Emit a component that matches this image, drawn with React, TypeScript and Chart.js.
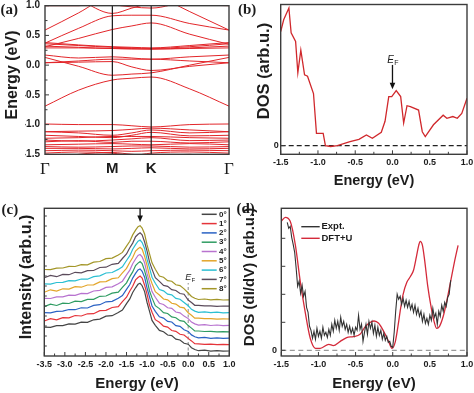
import React, { useEffect, useRef } from "react";
import { Chart, registerables } from "chart.js";

Chart.register(...registerables);

const W = 474;
const H = 393;
const SANS = "'Liberation Sans', Arial, Helvetica, sans-serif";
const SERIF = "'Liberation Serif', 'Times New Roman', Times, serif";
const INK = "#1c1c1c";
const FRAME = "#3c3c3c";
const BAND_RED = "#e2262a";

/* ---------------- (a) band structure ---------------- */
const kPath = [0, 0.5, 1, 1.29, 1.577, 2.15, 2.732];
const symPoints = [0, 1, 1.577, 2.732];
const symLabels = ["Γ", "M", "K", "Γ"];
const energyRangeA = [-1.5, 1.0];
const energyMajorA = [-1.5, -1.0, -0.5, 0, 0.5, 1.0];
const energyMinorA = [-1.25, -0.75, -0.25, 0.25, 0.75];
const bandsUpper = [
  [-0.69, -0.42, -0.25, -0.22, -0.2, -0.4, -0.69],
  [0.13, -0.02, -0.17, -0.15, -0.13, 0.0, 0.13],
  [0.17, 0.12, 0.14, 0.12, 0.1, 0.14, 0.17],
  [0.04, 0.07, 0.1, 0.1, 0.1, 0.07, 0.04],
  [0.04, 0.05, 0.06, -0.03, -0.09, -0.02, 0.04],
  [0.29, 0.29, 0.28, 0.27, 0.27, 0.28, 0.29],
  [0.32, 0.3, 0.28, 0.28, 0.27, 0.29, 0.32],
  [0.36, 0.33, 0.3, 0.29, 0.28, 0.31, 0.36],
  [0.38, 0.34, 0.31, 0.3, 0.29, 0.33, 0.38],
  [0.31, 0.45, 0.6, 0.66, 0.71, 0.52, 0.35],
  [0.37, 0.62, 0.83, 0.84, 0.84, 0.7, 0.59],
  [0.59, 0.88, 1.2, 1.25, 1.2, 0.9, 0.59],
  [1.3, 1.1, 0.87, 0.96, 1.05, 1.25, 1.3],
  [1.25, 1.15, 1.02, 0.98, 0.96, 1.1, 1.25],
  [1.0, 1.0, 1.1, 1.15, 1.1, 1.02, 1.0],
];
const bandsLower = [
  [-0.99, -1.0, -1.0, -1.02, -1.04, -1.0, -0.99],
  [-1.12, -1.11, -1.1, -1.08, -1.06, -1.09, -1.12],
  [-1.12, -1.14, -1.18, -1.14, -1.09, -1.14, -1.12],
  [-1.18, -1.2, -1.22, -1.18, -1.13, -1.19, -1.18],
  [-1.23, -1.22, -1.2, -1.2, -1.2, -1.22, -1.23],
  [-1.26, -1.28, -1.26, -1.24, -1.22, -1.27, -1.26],
  [-1.29, -1.27, -1.3, -1.28, -1.28, -1.31, -1.29],
  [-1.34, -1.33, -1.32, -1.33, -1.34, -1.32, -1.34],
  [-1.37, -1.38, -1.37, -1.36, -1.36, -1.38, -1.37],
  [-1.4, -1.4, -1.41, -1.4, -1.39, -1.41, -1.4],
  [-1.44, -1.43, -1.44, -1.45, -1.44, -1.43, -1.44],
  [-1.48, -1.46, -1.48, -1.52, -1.48, -1.46, -1.48],
  [-1.6, -1.5, -1.47, -1.5, -1.52, -1.5, -1.6],
];

/* ---------------- (b) DOS ---------------- */
const dosRangeB = [-1, 16.26];
const dosCurveB: [number, number][] = [
  [-1.5, 13.15], [-1.46, 14.5], [-1.39, 15.85], [-1.36, 13.0], [-1.3, 12.0], [-1.27, 8.4],
  [-1.23, 11.0], [-1.18, 8.15], [-1.14, 8.0], [-1.06, 6.0], [-1.02, 1.4], [-0.93, 1.4],
  [-0.9, 0], [-0.83, -0.1], [-0.74, 0], [-0.57, 0.46], [-0.45, 0.73], [-0.35, 1.23],
  [-0.27, 0.85], [-0.15, 1.54], [-0.1, 2.8], [-0.05, 5.65], [-0.01, 5.65], [0.05, 6.35],
  [0.11, 5.65], [0.15, 2.6], [0.195, 4.6], [0.24, 4.5], [0.35, 4.1], [0.4, 1.6],
  [0.44, 1.04], [0.55, 2.4], [0.68, 3.5], [0.73, 3.15], [0.81, 3.35], [0.87, 3.15],
  [0.93, 3.7], [1.0, 5.45],
];
const fermiArrowB = { x: 0, from: 9.3, to: 6.5 };
const zeroTick = [0];

/* shared energy ticks for (b) and (d) */
const energyMajorBD = [-1.5, -1.0, -0.5, 0, 0.5, 1.0];
const energyMinorBD = [-1.25, -0.75, -0.25, 0.25, 0.75];

/* ---------------- (c) ARPES EDCs ---------------- */
const energyC = [
  -3.5, -3.35, -3.2, -3.05, -2.9, -2.75, -2.6, -2.45, -2.3, -2.15,
  -2.0, -1.85, -1.7, -1.6, -1.5, -1.42, -1.35, -1.28, -1.22, -1.17,
  -1.12, -1.06, -1.0, -0.94, -0.88, -0.8, -0.7, -0.6, -0.5, -0.4,
  -0.3, -0.2, -0.1, 0.0, 0.08, 0.16, 0.25, 0.4, 0.55, 0.7, 0.85, 1.0,
];
const angle0 = [2.89, 2.87, 3.03, 3.04, 3.21, 3.19, 3.38, 3.36, 3.62, 3.69, 3.98, 4.03, 4.34, 4.6, 5.23, 5.71, 6.35, 6.82, 7.17, 7.27, 7.03, 6.44, 5.35, 4.46, 3.56, 3.07, 2.56, 2.43, 2.1, 2.04, 1.68, 1.6, 1.27, 1.18, 0.83, 0.65, 0.53, 0.58, 0.49, 0.54, 0.48, 0.5];
const angle1 = [3.5, 3.74, 3.61, 3.84, 3.81, 4.05, 4.0, 4.22, 4.23, 4.53, 4.56, 4.85, 4.94, 5.43, 5.88, 6.5, 6.97, 7.61, 7.85, 8.0, 7.8, 7.08, 6.17, 5.06, 4.37, 3.63, 3.38, 2.98, 2.89, 2.55, 2.47, 2.17, 2.1, 1.76, 1.51, 1.23, 1.22, 1.17, 1.18, 1.13, 1.16, 1.14];
const angle2 = [4.33, 4.31, 4.47, 4.48, 4.65, 4.63, 4.82, 4.8, 5.06, 5.13, 5.42, 5.47, 5.78, 6.04, 6.67, 7.15, 7.79, 8.26, 8.61, 8.71, 8.47, 7.88, 6.79, 5.9, 5.0, 4.47, 3.92, 3.79, 3.46, 3.4, 3.04, 2.96, 2.63, 2.46, 2.11, 1.93, 1.81, 1.86, 1.77, 1.82, 1.76, 1.78];
const angle3 = [4.94, 5.18, 5.05, 5.28, 5.25, 5.49, 5.44, 5.66, 5.67, 5.97, 6.0, 6.29, 6.38, 6.87, 7.32, 7.94, 8.41, 9.05, 9.29, 9.44, 9.24, 8.52, 7.61, 6.5, 5.81, 5.03, 4.74, 4.34, 4.25, 3.91, 3.83, 3.53, 3.46, 3.04, 2.79, 2.51, 2.5, 2.45, 2.46, 2.41, 2.44, 2.42];
const angle4 = [5.77, 5.75, 5.91, 5.92, 6.09, 6.07, 6.26, 6.24, 6.5, 6.57, 6.86, 6.91, 7.22, 7.48, 8.11, 8.59, 9.23, 9.7, 10.05, 10.15, 9.91, 9.32, 8.23, 7.34, 6.44, 5.87, 5.28, 5.15, 4.82, 4.76, 4.4, 4.32, 3.99, 3.74, 3.39, 3.21, 3.09, 3.14, 3.05, 3.1, 3.04, 3.06];
const angle5 = [6.38, 6.62, 6.49, 6.72, 6.69, 6.93, 6.88, 7.1, 7.11, 7.41, 7.44, 7.73, 7.82, 8.31, 8.76, 9.38, 9.85, 10.49, 10.73, 10.88, 10.68, 9.96, 9.05, 7.94, 7.25, 6.43, 6.1, 5.7, 5.61, 5.27, 5.19, 4.89, 4.82, 4.32, 4.07, 3.79, 3.78, 3.73, 3.74, 3.69, 3.72, 3.7];
const angle6 = [7.21, 7.19, 7.35, 7.36, 7.53, 7.51, 7.7, 7.68, 7.94, 8.01, 8.3, 8.35, 8.66, 8.92, 9.55, 10.03, 10.67, 11.14, 11.49, 11.59, 11.35, 10.76, 9.67, 8.78, 7.88, 7.27, 6.64, 6.51, 6.18, 6.12, 5.76, 5.68, 5.35, 5.02, 4.67, 4.49, 4.37, 4.42, 4.33, 4.38, 4.32, 4.34];
const angle7 = [7.82, 8.06, 7.93, 8.16, 8.13, 8.37, 8.32, 8.54, 8.55, 8.85, 8.88, 9.17, 9.26, 9.75, 10.2, 10.82, 11.29, 11.93, 12.17, 12.32, 12.12, 11.4, 10.49, 9.38, 8.69, 7.83, 7.46, 7.06, 6.97, 6.63, 6.55, 6.25, 6.18, 5.6, 5.35, 5.07, 5.06, 5.01, 5.02, 4.97, 5.0, 4.98];
const angle8 = [8.65, 8.63, 8.79, 8.8, 8.97, 8.95, 9.14, 9.12, 9.38, 9.45, 9.74, 9.79, 10.1, 10.36, 10.99, 11.47, 12.11, 12.58, 12.93, 13.03, 12.79, 12.2, 11.11, 10.22, 9.32, 8.67, 8.0, 7.87, 7.54, 7.48, 7.12, 7.04, 6.71, 6.3, 5.95, 5.77, 5.65, 5.7, 5.61, 5.66, 5.6, 5.62];
const angleCurves = [angle0, angle1, angle2, angle3, angle4, angle5, angle6, angle7, angle8];
const angleLabels = ["0°", "1°", "2°", "3°", "4°", "5°", "6°", "7°", "8°"];
const angleColors = ["#454545", "#e5343a", "#2a62c4", "#2f9c62", "#b873cf", "#e3a52a", "#2bbfd2", "#5b4b5b", "#a39628"];
const intensityRangeC = [0, 14.77];
const intensityMinorC = [1, 2, 3, 4, 5, 6, 7, 8, 9, 10, 11, 12, 13, 14];
const energyMajorC = [-3.5, -3.0, -2.5, -2.0, -1.5, -1.0, -0.5, 0, 0.5, 1.0];
const energyMinorC = [-3.25, -2.75, -2.25, -1.75, -1.25, -0.75, -0.25, 0.25, 0.75];
const peakArrowC = { x: -1.17, from: 14.8, to: 13.4 };
const fermiLineTopC = 7.3;

/* ---------------- (d) STS vs DFT+U ---------------- */
const dosRangeD = [-0.57, 14.2];
const dosMajorD = [0, 2.8, 5.6, 8.4, 11.2];
const dftCurve: [number, number][] = [
  [-1.5, 12.9], [-1.446, 13.3], [-1.38, 12.9], [-1.31, 10.5], [-1.245, 6.9], [-1.18, 3.9],
  [-1.11, 1.2], [-1.04, 0.2], [-0.975, 0.2], [-0.86, 0.6], [-0.8, 0.47], [-0.71, 0.87],
  [-0.62, 1.27], [-0.53, 1.37], [-0.44, 1.6], [-0.37, 2.37], [-0.3, 2.8], [-0.25, 2.93],
  [-0.19, 2.7], [-0.12, 1.87], [-0.055, 0.87], [-0.01, 0.2], [0.035, 0.87], [0.08, 2.87],
  [0.1, 3.9], [0.14, 5.6], [0.19, 6.8], [0.24, 7.4], [0.28, 8.0], [0.32, 9.4], [0.35, 10.5],
  [0.37, 10.9], [0.4, 10.5], [0.43, 9.0], [0.47, 6.5], [0.52, 4.2], [0.56, 2.8], [0.59, 2.2],
  [0.63, 2.4], [0.68, 3.4], [0.73, 5.0], [0.78, 6.9], [0.83, 8.8], [0.88, 10.5],
];
const exptCurve: [number, number][] = [
  [-1.42, 12.8], [-1.4, 12.2], [-1.38, 12.4], [-1.36, 11.3], [-1.34, 10.6], [-1.32, 9.8],
  [-1.3, 8.2], [-1.28, 6.4], [-1.26, 6.9], [-1.24, 5.7], [-1.22, 6.5], [-1.2, 5.4],
  [-1.18, 5.9], [-1.16, 4.3], [-1.14, 3.8], [-1.12, 2.4], [-1.1, 2.0], [-1.08, 1.2],
  [-1.06, 1.9], [-1.04, 1.1], [-1.02, 2.2], [-1.0, 1.4], [-0.98, 1.9], [-0.96, 1.2],
  [-0.94, 2.3], [-0.92, 1.5], [-0.9, 1.8], [-0.88, 1.3], [-0.86, 2.1], [-0.84, 1.5],
  [-0.82, 2.6], [-0.8, 1.9], [-0.78, 3.0], [-0.76, 2.2], [-0.74, 2.9], [-0.72, 2.0],
  [-0.7, 3.3], [-0.68, 2.4], [-0.66, 2.9], [-0.64, 2.1], [-0.62, 2.6], [-0.6, 1.8],
  [-0.58, 2.4], [-0.56, 1.7], [-0.54, 2.2], [-0.52, 1.5], [-0.5, 2.3], [-0.48, 2.0],
  [-0.46, 3.5], [-0.44, 2.1], [-0.42, 2.6], [-0.4, 0.9], [-0.38, 1.8], [-0.36, 2.6],
  [-0.34, 1.6], [-0.32, 2.9], [-0.3, 2.2], [-0.28, 2.8], [-0.26, 1.7], [-0.24, 2.5],
  [-0.22, 1.4], [-0.2, 2.3], [-0.18, 1.5], [-0.16, 2.0], [-0.14, 1.1], [-0.12, 1.7],
  [-0.1, 1.0], [-0.08, 1.4], [-0.06, 0.8], [-0.04, 0.9], [-0.02, 0.4], [0.0, 0.3],
  [0.02, 1.8], [0.04, 3.9], [0.06, 5.6], [0.08, 5.1], [0.1, 5.4], [0.12, 4.6],
  [0.14, 5.2], [0.16, 4.4], [0.18, 5.0], [0.2, 4.3], [0.22, 4.9], [0.24, 4.1],
  [0.26, 4.6], [0.28, 3.8], [0.3, 4.5], [0.32, 3.6], [0.34, 4.2], [0.36, 3.4],
  [0.38, 3.9], [0.4, 2.9], [0.42, 3.6], [0.44, 2.7], [0.46, 3.2], [0.48, 2.6],
  [0.5, 3.5], [0.52, 3.0], [0.54, 4.2], [0.56, 3.3], [0.58, 3.7], [0.6, 2.6],
  [0.62, 3.9], [0.64, 3.4], [0.66, 4.5], [0.68, 3.9], [0.7, 4.8], [0.72, 4.4],
  [0.74, 5.3], [0.76, 5.6], [0.78, 7.0],
];
const seriesD = ["Expt.", "DFT+U"];

/* ---------------- helpers ---------------- */
type Area = { l: number; t: number; r: number; b: number };
const AXIS_W = 20;
const AXIS_H = 20;
const NOGRID = { display: false, drawTicks: false };
const NOBORDER = { display: false };

function layoutFor(a: Area) {
  return { padding: { left: a.l - AXIS_W, top: a.t, right: W - a.r, bottom: H - a.b - AXIS_H } };
}
function pinAxis(size: number, vertical: boolean) {
  return (s: any) => {
    if (vertical) s.width = size;
    else s.height = size;
    s.paddingLeft = 0;
    s.paddingRight = 0;
    s.paddingTop = 0;
    s.paddingBottom = 0;
  };
}
function common(a: Area) {
  return {
    responsive: false,
    maintainAspectRatio: false,
    animation: false,
    devicePixelRatio: 1,
    events: [],
    layout: layoutFor(a),
    elements: { point: { radius: 0 }, line: { capBezierPoints: false } },
    plugins: { legend: { display: false }, tooltip: { enabled: false }, title: { display: false } },
  };
}
const pts = (xs: number[], ys: number[]) => xs.map((x, i) => ({ x, y: ys[i] }));
const pairPts = (p: [number, number][]) => p.map(([x, y]) => ({ x, y }));
const tickFont = (size: number) => ({ family: SANS, size, weight: "bold" as const });

function label(ctx: CanvasRenderingContext2D, s: string, x: number, y: number, font: string, align: CanvasTextAlign = "center", baseline: CanvasTextBaseline = "middle", rot = 0, color = INK) {
  ctx.save();
  ctx.translate(x, y);
  if (rot) ctx.rotate(rot);
  ctx.font = font;
  ctx.fillStyle = color;
  ctx.textAlign = align;
  ctx.textBaseline = baseline;
  ctx.fillText(s, 0, 0);
  ctx.restore();
}
function arrowDown(ctx: CanvasRenderingContext2D, x: number, yTop: number, yTip: number) {
  ctx.save();
  ctx.strokeStyle = "#111";
  ctx.fillStyle = "#111";
  ctx.lineWidth = 1.3;
  ctx.beginPath();
  ctx.moveTo(x, yTop);
  ctx.lineTo(x, yTip - 4);
  ctx.stroke();
  ctx.beginPath();
  ctx.moveTo(x - 2.8, yTip - 6.5);
  ctx.lineTo(x + 2.8, yTip - 6.5);
  ctx.lineTo(x, yTip);
  ctx.closePath();
  ctx.fill();
  ctx.restore();
}
function fermiLabel(ctx: CanvasRenderingContext2D, x: number, baseline: number, size: number) {
  ctx.save();
  ctx.fillStyle = INK;
  ctx.textBaseline = "alphabetic";
  ctx.font = `italic ${size}px ${SANS}`;
  ctx.textAlign = "right";
  ctx.fillText("E", x, baseline);
  ctx.font = `${Math.round(size * 0.72)}px ${SANS}`;
  ctx.textAlign = "left";
  ctx.fillText("F", x + 0.3, baseline + 2);
  ctx.restore();
}

type TickSpec = { xMajor?: number[]; xMinor?: number[]; yMajor?: number[]; yMinor?: number[] };
function decor(id: string, spec: TickSpec, extra: (chart: any, ctx: CanvasRenderingContext2D) => void) {
  return {
    id,
    afterDraw(chart: any) {
      const ctx: CanvasRenderingContext2D = chart.ctx;
      const a = chart.chartArea;
      const xs = chart.scales.x;
      const ys = chart.scales.y;
      ctx.save();
      ctx.strokeStyle = FRAME;
      ctx.lineWidth = 1;
      const xt = (vals: number[] = [], len: number) =>
        vals.forEach((v) => {
          const p = xs.getPixelForValue(v);
          ctx.beginPath();
          ctx.moveTo(p, a.bottom);
          ctx.lineTo(p, a.bottom - len);
          ctx.stroke();
        });
      const yt = (vals: number[] = [], len: number) =>
        vals.forEach((v) => {
          const p = ys.getPixelForValue(v);
          ctx.beginPath();
          ctx.moveTo(a.left, p);
          ctx.lineTo(a.left + len, p);
          ctx.stroke();
        });
      xt(spec.xMajor, 4);
      xt(spec.xMinor, 2.5);
      yt(spec.yMajor, 4);
      yt(spec.yMinor, 2.5);
      ctx.lineWidth = 1.4;
      ctx.strokeRect(a.left, a.top, a.right - a.left, a.bottom - a.top);
      ctx.restore();
      ctx.save();
      extra(chart, ctx);
      ctx.restore();
    },
  };
}

/* ---------------- panel configs ---------------- */
function configA() {
  const area = { l: 45, t: 5.7, r: 229, b: 154.3 };
  const datasets: any[] = [];
  symPoints.slice(1, 3).forEach((k) =>
    datasets.push({ data: [{ x: k, y: energyRangeA[0] }, { x: k, y: energyRangeA[1] }], borderColor: "#151515", borderWidth: 1.2 })
  );
  [...bandsUpper, ...bandsLower].forEach((vals) =>
    datasets.push({ data: pts(kPath, vals), borderColor: BAND_RED, borderWidth: 1, cubicInterpolationMode: "monotone" })
  );
  return {
    type: "line",
    data: { datasets },
    options: {
      ...common(area),
      scales: {
        x: {
          type: "linear", min: symPoints[0], max: symPoints[3], grid: NOGRID, border: NOBORDER,
          afterFit: pinAxis(AXIS_H, false),
          afterBuildTicks: (s: any) => { s.ticks = symPoints.map((v) => ({ value: v })); },
          ticks: {
            autoSkip: false, maxRotation: 0, minRotation: 0, padding: 5.5, color: INK,
            callback: (_v: any, i: number) => symLabels[i],
            font: (c: any) => (symLabels[c.index] === "Γ" ? { family: SERIF, size: 17 } : { family: SANS, size: 15, weight: "bold" }),
          },
        },
        y: {
          type: "linear", min: energyRangeA[0], max: energyRangeA[1], grid: NOGRID, border: NOBORDER,
          afterFit: pinAxis(AXIS_W, true),
          ticks: { stepSize: 0.5, autoSkip: false, padding: 5, color: INK, font: tickFont(10), callback: (v: any) => Number(v).toFixed(1) },
        },
      },
    },
    plugins: [
      decor("decA", { yMajor: energyMajorA, yMinor: energyMinorA }, (_c, ctx) => {
        label(ctx, "Energy (eV)", 12.5, 75, `bold 16px ${SANS}`, "center", "middle", -Math.PI / 2);
        label(ctx, "(a)", 0.5, 14, `bold 15px ${SERIF}`, "left", "alphabetic");
      }),
    ],
  };
}

function configB() {
  const area = { l: 280.7, t: 4.5, r: 467, b: 154.3 };
  return {
    type: "line",
    data: {
      datasets: [
        { data: pairPts(dosCurveB), borderColor: "#d0282c", borderWidth: 1.3 },
        { data: [{ x: energyMajorBD[0], y: 0 }, { x: energyMajorBD[5], y: 0 }], borderColor: "#222", borderWidth: 1.2, borderDash: [5, 3] },
      ],
    },
    options: {
      ...common(area),
      scales: {
        x: {
          type: "linear", min: -1.5, max: 1.0, grid: NOGRID, border: NOBORDER, afterFit: pinAxis(AXIS_H, false),
          ticks: { stepSize: 0.5, autoSkip: false, maxRotation: 0, padding: 3.3, color: INK, font: tickFont(9), callback: (v: any) => Number(v).toFixed(1) },
        },
        y: {
          type: "linear", min: dosRangeB[0], max: dosRangeB[1], grid: NOGRID, border: NOBORDER, afterFit: pinAxis(AXIS_W, true),
          afterBuildTicks: (s: any) => { s.ticks = zeroTick.map((v) => ({ value: v })); },
          ticks: { autoSkip: false, padding: 2, color: INK, font: tickFont(9) },
        },
      },
    },
    plugins: [
      decor("decB", { xMajor: energyMajorBD, xMinor: energyMinorBD, yMajor: zeroTick }, (c, ctx) => {
        const xs = c.scales.x, ys = c.scales.y;
        const px = xs.getPixelForValue(fermiArrowB.x);
        const yTop = ys.getPixelForValue(fermiArrowB.from);
        arrowDown(ctx, px, yTop, ys.getPixelForValue(fermiArrowB.to));
        fermiLabel(ctx, px + 1.5, yTop - 2, 10);
        label(ctx, "DOS (arb.u.)", 264.3, 71, `bold 16.5px ${SANS}`, "center", "middle", -Math.PI / 2);
        label(ctx, "Energy (eV)", 374, 180.5, `bold 14.5px ${SANS}`);
        label(ctx, "(b)", 238, 14, `bold 15px ${SERIF}`, "left", "alphabetic");
      }),
    ],
  };
}

function configC() {
  const area = { l: 44.3, t: 208.3, r: 229.3, b: 356 };
  const datasets: any[] = angleCurves.map((vals, i) => ({ data: pts(energyC, vals), borderColor: angleColors[i], borderWidth: 1.2 }));
  datasets.push({ data: [{ x: 0, y: intensityRangeC[0] }, { x: 0, y: fermiLineTopC }], borderColor: "#8a8a8a", borderWidth: 1, borderDash: [3, 2.5] });
  return {
    type: "line",
    data: { datasets },
    options: {
      ...common(area),
      scales: {
        x: {
          type: "linear", min: -3.5, max: 1.0, grid: NOGRID, border: NOBORDER, afterFit: pinAxis(AXIS_H, false),
          ticks: { stepSize: 0.5, autoSkip: false, maxRotation: 0, padding: 2.9, color: INK, font: tickFont(9), callback: (v: any) => Number(v).toFixed(1) },
        },
        y: {
          type: "linear", min: intensityRangeC[0], max: intensityRangeC[1], grid: NOGRID, border: NOBORDER, afterFit: pinAxis(AXIS_W, true),
          ticks: { display: false },
        },
      },
    },
    plugins: [
      decor("decC", { xMajor: energyMajorC, xMinor: energyMinorC, yMinor: intensityMinorC }, (c, ctx) => {
        const xs = c.scales.x, ys = c.scales.y;
        arrowDown(ctx, xs.getPixelForValue(peakArrowC.x), ys.getPixelForValue(peakArrowC.from), ys.getPixelForValue(peakArrowC.to));
        fermiLabel(ctx, xs.getPixelForValue(0) + 3, ys.getPixelForValue(fermiLineTopC) - 3, 9);
        angleLabels.forEach((t, i) => {
          const y = 214.3 + i * 9.3;
          ctx.strokeStyle = angleColors[i];
          ctx.lineWidth = 1.5;
          ctx.beginPath();
          ctx.moveTo(201.7, y);
          ctx.lineTo(216.7, y);
          ctx.stroke();
          label(ctx, t, 219, y, `bold 8px ${SANS}`, "left", "middle");
        });
        label(ctx, "Intensity (arb.u.)", 26.5, 277, `bold 16px ${SANS}`, "center", "middle", -Math.PI / 2);
        label(ctx, "Energy (eV)", 137, 384, `bold 15px ${SANS}`);
        label(ctx, "(c)", 1.5, 214, `bold 15px ${SERIF}`, "left", "alphabetic");
      }),
    ],
  };
}

function configD() {
  const area = { l: 281.3, t: 208.3, r: 467, b: 356 };
  return {
    type: "line",
    data: {
      datasets: [
        { label: seriesD[0], data: pairPts(exptCurve), borderColor: "#333333", borderWidth: 1.1 },
        { label: seriesD[1], data: pairPts(dftCurve), borderColor: "#d42a3a", borderWidth: 1.3, cubicInterpolationMode: "monotone" },
        { data: [{ x: -1.5, y: 0 }, { x: 1.0, y: 0 }], borderColor: "#9a9a9a", borderWidth: 1.2, borderDash: [5, 3.5] },
      ],
    },
    options: {
      ...common(area),
      scales: {
        x: {
          type: "linear", min: -1.5, max: 1.0, grid: NOGRID, border: NOBORDER, afterFit: pinAxis(AXIS_H, false),
          ticks: { stepSize: 0.5, autoSkip: false, maxRotation: 0, padding: 2.9, color: INK, font: tickFont(9), callback: (v: any) => Number(v).toFixed(1) },
        },
        y: {
          type: "linear", min: dosRangeD[0], max: dosRangeD[1], grid: NOGRID, border: NOBORDER, afterFit: pinAxis(AXIS_W, true),
          afterBuildTicks: (s: any) => { s.ticks = zeroTick.map((v) => ({ value: v })); },
          ticks: { autoSkip: false, padding: 4.3, color: INK, font: tickFont(9) },
        },
      },
    },
    plugins: [
      decor("decD", { xMajor: energyMajorBD, xMinor: energyMinorBD, yMajor: dosMajorD }, (_c, ctx) => {
        const rows = [{ y: 226.7, color: "#333333" }, { y: 238.3, color: "#d42a3a" }];
        rows.forEach((r, i) => {
          ctx.strokeStyle = r.color;
          ctx.lineWidth = 1.4;
          ctx.beginPath();
          ctx.moveTo(301.3, r.y);
          ctx.lineTo(319.7, r.y);
          ctx.stroke();
          label(ctx, seriesD[i], 321.5, r.y, `bold 9.5px ${SANS}`, "left", "middle");
        });
        label(ctx, "DOS (dI/dV) (arb.u.)", 249.5, 277, `bold 15px ${SANS}`, "center", "middle", -Math.PI / 2);
        label(ctx, "Energy (eV)", 374, 384, `bold 15px ${SANS}`);
        label(ctx, "(d)", 236.5, 213, `bold 15px ${SERIF}`, "left", "alphabetic");
      }),
    ],
  };
}

function ChartLayer({ build }: { build: () => any }) {
  const ref = useRef<HTMLCanvasElement>(null);
  useEffect(() => {
    if (!ref.current) return;
    const chart = new Chart(ref.current, build());
    return () => chart.destroy();
  }, [build]);
  return <canvas ref={ref} width={W} height={H} style={{ position: "absolute", left: 0, top: 0, width: W, height: H }} />;
}

export default function App() {
  return (
    <div style={{ position: "fixed", left: 0, top: 0, width: W, height: H, background: "#fff", overflow: "hidden" }}>
      <ChartLayer build={configA} />
      <ChartLayer build={configB} />
      <ChartLayer build={configC} />
      <ChartLayer build={configD} />
    </div>
  );
}
